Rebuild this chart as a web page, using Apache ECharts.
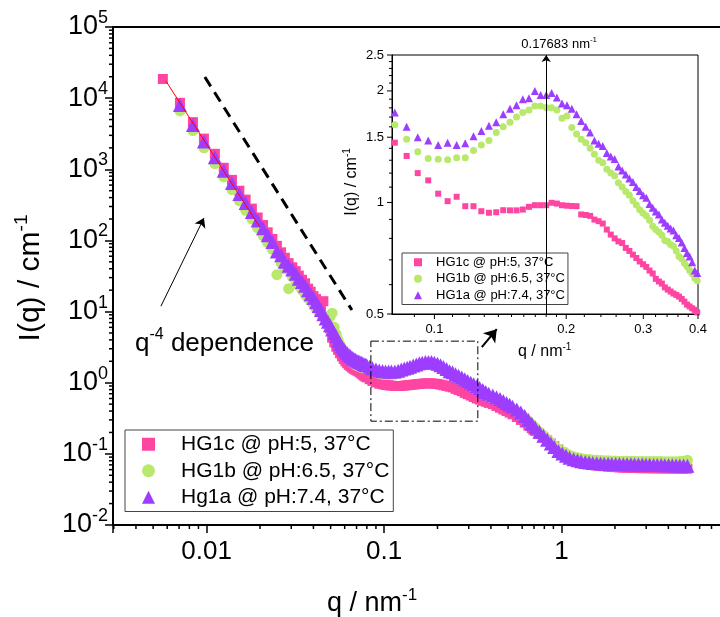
<!DOCTYPE html>
<html><head><meta charset="utf-8">
<script src="https://cdn.jsdelivr.net/npm/echarts@6/dist/echarts.min.js"></script>
<style>html,body{margin:0;padding:0;background:#fff}#c{width:720px;height:617px}</style>
</head><body><div id="c"></div>
<script>
const FONT = 'Liberation Sans, Arial, sans-serif';
const seriesNames = ['HG1c @ pH:5, 37°C', 'HG1b @ pH:6.5, 37°C', 'HG1a @ pH:7.4, 37°C'];
const mainLegendLabels = ['HG1c @ pH:5, 37°C', 'HG1b @ pH:6.5, 37°C', 'Hg1a @ pH:7.4, 37°C'];
const colors = ['#ff45a2', '#b8e86c', '#9d3dff'];

// ---- main plot data (q in nm^-1, I in cm^-1) ----
const mainQ = [
  0.00567, 0.00708, 0.00838, 0.00966, 0.01114, 0.0125, 0.0139, 0.0153, 0.0166, 0.0180,
  0.0194, 0.0208, 0.0221, 0.0235, 0.0249, 0.0263, 0.0276, 0.0290, 0.0304, 0.0318,
  0.0331, 0.0345, 0.0359, 0.0373, 0.0386, 0.0400, 0.0414, 0.0428, 0.0441, 0.0455,
  0.0469, 0.0483, 0.0496, 0.0510, 0.0524, 0.0538, 0.0551, 0.0565, 0.0579, 0.0593,
  0.0606, 0.0620, 0.0634, 0.0648, 0.0661, 0.0675, 0.0689, 0.0703, 0.0716, 0.0730,
  0.0744, 0.0758, 0.0771, 0.0785, 0.0799,
  0.083, 0.086, 0.090, 0.094, 0.098, 0.102, 0.106, 0.110, 0.115, 0.120,
  0.125, 0.130, 0.135, 0.140, 0.146, 0.152, 0.158, 0.164, 0.171, 0.178,
  0.185, 0.192, 0.200, 0.208, 0.216, 0.225, 0.234, 0.243, 0.253, 0.263,
  0.274, 0.285, 0.296, 0.308, 0.320, 0.333, 0.346, 0.360, 0.374, 0.389,
  0.41, 0.43, 0.45, 0.47, 0.49, 0.51, 0.53, 0.56, 0.59, 0.62,
  0.65, 0.68, 0.71, 0.75, 0.79, 0.83, 0.87, 0.91, 0.96, 1.01,
  1.06, 1.11, 1.17, 1.23, 1.29, 1.36, 1.43, 1.50, 1.58, 1.66,
  1.74, 1.83, 1.92, 2.02, 2.12, 2.23, 2.34, 2.46, 2.58, 2.71,
  2.85, 2.99, 3.14, 3.30, 3.46, 3.64, 3.82, 4.01, 4.21, 4.42,
  4.64, 4.87, 5.12
];
const mainPink = [
  18600, 8600, 4600, 2700, 1650, 1050, 710, 500, 375, 280,
  210, 165, 130, 105, 84, 68, 57, 48, 42, 37,
  32, 28, 25, 21, 19, 16.5, 15, 13, 11.5, 14,
  8.5, 7.0, 5.8, 4.3, 3.7, 3.2, 2.9, 2.6, 2.35, 2.15,
  2.0, 1.88, 1.78, 1.70, 1.63, 1.57, 1.52, 1.49, 1.45, 1.40,
  1.35, 1.30, 1.26, 1.22, 1.19,
  1.12, 1.06, 1.01, 0.97, 0.95, 0.93, 0.92, 0.91, 0.90, 0.90,
  0.90, 0.91, 0.92, 0.93, 0.94, 0.95, 0.96, 0.97, 0.98, 0.98,
  0.98, 0.97, 0.96, 0.94, 0.92, 0.90, 0.88, 0.86, 0.82, 0.79,
  0.76, 0.72, 0.69, 0.66, 0.63, 0.60, 0.58, 0.56, 0.54, 0.52,
  0.50, 0.47, 0.445, 0.42, 0.40, 0.38, 0.36, 0.33, 0.30, 0.275,
  0.25, 0.23, 0.21, 0.19, 0.17, 0.155, 0.14, 0.128, 0.115, 0.104,
  0.096, 0.09, 0.084, 0.08, 0.077, 0.074, 0.072, 0.070, 0.069, 0.068,
  0.067, 0.066, 0.0655, 0.065, 0.0645, 0.064, 0.064, 0.0635, 0.0635, 0.063,
  0.063, 0.063, 0.0628, 0.0627, 0.0626, 0.0625, 0.0625, 0.0624, 0.0623, 0.0622,
  0.0621, 0.062, 0.062
];
const mainGreen = [
  null, 6600, 3500, 2000, 1200, 780, 520, 360, 265, 200,
  150, 118, 93, 75, 33, 48, 40, 21, 31, 27,
  23, 20, 17.5, 15.5, 14, 12.5, 11, 10, 9.2, 8.5,
  8.0, 7.8, 8.5, 9.5, 6.0, 4.8, 4.0, 3.4, 3.0, 2.7,
  2.5, 2.3, 2.15, 2.05, 1.95, 1.87, 1.8, 1.75, 1.71, 1.68,
  1.65, 1.63, 1.61, 1.60, 1.59,
  1.55, 1.47, 1.40, 1.35, 1.31, 1.31, 1.30, 1.31, 1.32, 1.34,
  1.40, 1.44, 1.50, 1.56, 1.62, 1.68, 1.74, 1.77, 1.82, 1.81,
  1.80, 1.76, 1.70, 1.60, 1.49, 1.43, 1.33, 1.28, 1.20, 1.13,
  1.07, 1.01, 0.96, 0.91, 0.85, 0.80, 0.77, 0.73, 0.68, 0.64,
  0.60, 0.57, 0.54, 0.51, 0.48, 0.455, 0.43, 0.395, 0.36, 0.325,
  0.29, 0.26, 0.232, 0.205, 0.182, 0.161, 0.144, 0.13, 0.117, 0.108,
  0.101, 0.095, 0.091, 0.088, 0.086, 0.084, 0.083, 0.082, 0.081, 0.0805,
  0.080, 0.0798, 0.0795, 0.0792, 0.079, 0.079, 0.0788, 0.0786, 0.0785, 0.0784,
  0.0783, 0.0782, 0.078, 0.078, 0.0779, 0.0778, 0.0777, 0.0776, 0.0775, 0.0775,
  0.0778, 0.079, 0.081
];
const mainPurple = [
  null, 8000, 4200, 2450, 1480, 950, 640, 450, 335, 250,
  190, 148, 118, 95, 70, 62, 50, 44, 39, 34,
  29, 26, 23, 20, 17.5, 15.5, 13.5, 12, 10.5, 9.2,
  8.0, 7.2, 6.4, 5.6, 5.0, 4.5, 3.9, 3.5, 3.2, 2.95,
  2.75, 2.6, 2.45, 2.35, 2.25, 2.17, 2.1, 2.04, 1.99, 1.95,
  1.91, 1.86, 1.82, 1.79, 1.76,
  1.68, 1.60, 1.53, 1.49, 1.46, 1.44, 1.44, 1.44, 1.44, 1.47,
  1.53, 1.58, 1.62, 1.68, 1.75, 1.81, 1.87, 1.91, 1.96, 1.96,
  1.96, 1.91, 1.84, 1.76, 1.66, 1.56, 1.45, 1.40, 1.32, 1.25,
  1.18, 1.12, 1.06, 1.00, 0.95, 0.89, 0.84, 0.79, 0.74, 0.70,
  0.66, 0.625, 0.59, 0.555, 0.52, 0.49, 0.46, 0.42, 0.38, 0.34,
  0.30, 0.265, 0.235, 0.205, 0.18, 0.158, 0.14, 0.125, 0.11, 0.101,
  0.094, 0.088, 0.084, 0.081, 0.079, 0.077, 0.0755, 0.0745, 0.0738, 0.0732,
  0.0728, 0.0725, 0.0722, 0.072, 0.0718, 0.0716, 0.0714, 0.0712, 0.071, 0.0708,
  0.0706, 0.0704, 0.0702, 0.07, 0.0698, 0.0696, 0.0694, 0.0692, 0.069, 0.0688,
  0.0686, 0.0684, 0.068
];

// ---- inset data ----
const insetQ = [
  0.0812, 0.0864, 0.0916, 0.0968, 0.1020, 0.1072, 0.1124, 0.1176, 0.1228, 0.1280,
  0.1332, 0.1384, 0.1436, 0.1488, 0.1540, 0.1592, 0.1644, 0.1696, 0.1748, 0.1800,
  0.1852, 0.1904, 0.1956, 0.2008, 0.2060, 0.2112, 0.2164, 0.2216, 0.2268, 0.2320,
  0.2372, 0.2424, 0.2476, 0.2528, 0.2580, 0.2632, 0.2684, 0.2736, 0.2788, 0.2840,
  0.2892, 0.2944, 0.2996, 0.3048, 0.3100, 0.3152, 0.3204, 0.3256, 0.3308, 0.3360,
  0.3412, 0.3464, 0.3516, 0.3568, 0.3620, 0.3672, 0.3724, 0.3776, 0.3828, 0.3880,
  0.3932, 0.3984
];
const insetPink = [
  1.45, 1.335, 1.20, 1.147, 1.056, 1.008, 1.036, 0.977, 0.977, 0.947,
  0.938, 0.941, 0.953, 0.952, 0.952, 0.957, 0.973, 0.983, 0.983, 0.983,
  0.998, 0.993, 0.983, 0.98, 0.978, 0.977, 0.928, 0.925, 0.92, 0.899,
  0.89, 0.877, 0.845, 0.819, 0.80, 0.785, 0.777, 0.754, 0.74, 0.723,
  0.708, 0.693, 0.681, 0.67, 0.655, 0.643, 0.622, 0.612, 0.604, 0.59,
  0.582, 0.575, 0.568, 0.563, 0.557, 0.549, 0.54, 0.53, 0.524, 0.518,
  0.513, 0.505
];
const insetGreen = [
  1.62, 1.48, 1.37, 1.314, 1.308, 1.303, 1.32, 1.32, 1.38, 1.43,
  1.47, 1.545, 1.60, 1.645, 1.70, 1.75, 1.776, 1.82, 1.82, 1.805,
  1.80, 1.776, 1.687, 1.71, 1.594, 1.53, 1.48, 1.45, 1.40, 1.35,
  1.30, 1.28, 1.23, 1.20, 1.18, 1.13, 1.10, 1.07, 1.045, 1.01,
  0.985, 0.955, 0.935, 0.92, 0.895, 0.862, 0.845, 0.832, 0.815, 0.79,
  0.785, 0.77, 0.762, 0.74, 0.715, 0.705, 0.685, 0.672, 0.655, 0.642,
  0.625, 0.615
];
const insetPurple = [
  1.75, 1.60, 1.50, 1.47, 1.43, 1.45, 1.43, 1.445, 1.51, 1.56,
  1.61, 1.645, 1.73, 1.79, 1.83, 1.90, 1.91, 2.00, 1.95, 1.95,
  1.975, 1.92, 1.85, 1.83, 1.79, 1.73, 1.66, 1.60, 1.545, 1.47,
  1.44, 1.42, 1.36, 1.33, 1.31, 1.25, 1.22, 1.19, 1.16, 1.135,
  1.10, 1.073, 1.045, 1.03, 0.99, 0.967, 0.945, 0.928, 0.90, 0.881,
  0.865, 0.85, 0.84, 0.815, 0.802, 0.78, 0.754, 0.73, 0.715, 0.69,
  0.655, 0.645
];

// ---- annotations (data coordinates) ----
const peakQ = 0.17683;
const guideLine = [[0.00978, 19800], [0.0659, 10.5]];
const fitLine = [[0.0059, 17400], [0.01995, 154]];
const zoomBox = [[0.0843, 3.84], [0.3376, 3.84], [0.3376, 0.288], [0.0843, 0.288], [0.0843, 3.84]];
const arrowQ4 = [[0.00553, 11.9], [0.00966, 206]];
const arrowInset = [[0.3556, 3.16], [0.4314, 5.65]];

// ---- axis ranges and tick values ----
const mainX = [0.00297, 10];
const mainY = [0.01, 100000];
const insetX = [0.08, 0.4];
const insetY = [0.5, 2.5];
const insetXTicks = [0.1, 0.2, 0.3, 0.4];
const insetYTicks = [0.5, 1, 1.5, 2, 2.5];

const mainXMinor = [];
[0.001, 0.01, 0.1, 1].forEach(d => { for (let k = 2; k <= 9; k++) { const v = +(k * d).toPrecision(3); if (v > mainX[0] && v < mainX[1]) mainXMinor.push(v); } });
const mainYMinor = [];
[0.01, 0.1, 1, 10, 100, 1000, 10000].forEach(d => { for (let k = 2; k <= 9; k++) mainYMinor.push(+(k * d).toPrecision(3)); });
const insetXMinor = [0.09, 0.11, 0.12, 0.13, 0.14, 0.15, 0.16, 0.17, 0.18, 0.19, 0.22, 0.24, 0.26, 0.28, 0.32, 0.34, 0.36, 0.38];
const insetYMinor = [0.6, 0.7, 0.8, 0.9, 1.1, 1.2, 1.3, 1.4, 1.6, 1.7, 1.8, 1.9, 2.1, 2.2, 2.3, 2.4];

const zip = (xs, ys) => xs.map((x, i) => [x, ys[i]]).filter(p => p[1] != null);

function tickSeries(idx, vals, isX, len, width, labelSize) {
  const xMin = idx === 0 ? mainX[0] : insetX[0];
  const yMin = idx === 0 ? mainY[0] : insetY[0];
  return {
    type: 'custom', xAxisIndex: idx, yAxisIndex: idx, silent: true, z: 10, clip: false,
    data: vals.map(v => isX ? [v, yMin] : [xMin, v]),
    renderItem: (params, api) => {
      const v = api.value(isX ? 0 : 1);
      const p = api.coord([api.value(0), api.value(1)]);
      const children = [{
        type: 'line',
        shape: isX ? { x1: p[0], y1: p[1], x2: p[0], y2: p[1] + len } : { x1: p[0], y1: p[1], x2: p[0] - len, y2: p[1] },
        style: { stroke: '#000', lineWidth: width }
      }];
      if (labelSize) {
        children.push({
          type: 'text', x: isX ? p[0] : p[0] - len - 3, y: isX ? p[1] + len + 4 : p[1],
          style: { text: String(v), fontSize: labelSize, fontFamily: FONT, fill: '#000',
                   align: isX ? 'center' : 'right', verticalAlign: isX ? 'top' : 'middle' }
        });
      }
      return { type: 'group', children };
    }
  };
}

const chart = echarts.init(document.getElementById('c'), null, { renderer: 'canvas' });
const symbols = ['rect', 'circle', 'triangle'];
const mainSizes = [10, 11, 14];
const insetSizes = [6, 7, 8];
const mainSets = [mainPink, mainGreen, mainPurple];
const insetSets = [insetPink, insetGreen, insetPurple];

const series = [];
mainSets.forEach((ys, i) => series.push({
  type: 'scatter', name: seriesNames[i], xAxisIndex: 0, yAxisIndex: 0,
  data: zip(mainQ, ys), symbol: symbols[i], symbolSize: mainSizes[i],
  itemStyle: { color: colors[i], opacity: 1 }, z: 2 + i, silent: true
}));
insetSets.forEach((ys, i) => series.push({
  type: 'scatter', name: seriesNames[i], xAxisIndex: 1, yAxisIndex: 1,
  data: zip(insetQ, ys), symbol: symbols[i], symbolSize: insetSizes[i],
  itemStyle: { color: colors[i], opacity: 1 }, z: 2 + i, silent: true,
  markLine: i === 2 ? {
    silent: true, symbol: ['none', 'arrow'], symbolSize: 7, animation: false,
    lineStyle: { color: '#000', width: 1, type: 'solid' },
    label: { show: true, position: 'end', distance: 3,
      formatter: '{a|0.17683 nm}{s|-1}',
      rich: { a: { fontSize: 13, fontFamily: FONT, color: '#000', lineHeight: 16, padding: [0, 0, 0, 26] },
              s: { fontSize: 8, fontFamily: FONT, color: '#000', lineHeight: 8, verticalAlign: 'top' } } },
    data: [{ xAxis: peakQ }]
  } : undefined
}));
series.push({
  type: 'line', xAxisIndex: 0, yAxisIndex: 0, data: guideLine, symbol: 'none', silent: true, z: 6,
  lineStyle: { color: '#000', width: 3, type: [11, 7] },
  markLine: { silent: true, symbol: ['none', 'arrow'], symbolSize: 9, animation: false,
    lineStyle: { color: '#000', width: 1, type: 'solid' }, label: { show: false },
    data: [[{ coord: arrowQ4[0] }, { coord: arrowQ4[1] }]] }
});
series.push({
  type: 'line', xAxisIndex: 0, yAxisIndex: 0, data: fitLine, symbol: 'none', silent: true, z: 6,
  lineStyle: { color: '#ff0000', width: 1, type: 'solid' },
  markLine: { silent: true, symbol: ['none', 'arrow'], symbolSize: 12, animation: false,
    lineStyle: { color: '#000', width: 2, type: 'solid' }, label: { show: false },
    data: [[{ coord: arrowInset[0] }, { coord: arrowInset[1] }]] }
});
series.push({
  type: 'line', xAxisIndex: 0, yAxisIndex: 0, data: zoomBox, symbol: 'none', silent: true, z: 7,
  lineStyle: { color: '#000', width: 1, type: [8, 3, 2, 3] }
});
series.push(tickSeries(0, mainXMinor, true, 4, 1.5));
series.push(tickSeries(0, mainYMinor, false, 4, 1.5));
series.push(tickSeries(1, insetXTicks, true, 5, 1, 13));
series.push(tickSeries(1, insetXMinor, true, 3, 1));
series.push(tickSeries(1, insetYTicks, false, 5, 1, 13));
series.push(tickSeries(1, insetYMinor, false, 3, 1));

const mainXLabel = v => {
  const e = Math.log10(v); const r = Math.round(e);
  if (Math.abs(e - r) > 1e-6) return '';
  return r < 0 ? v.toFixed(-r) : String(Math.round(v));
};

const option = {
  animation: false,
  backgroundColor: '#fff',
  grid: [
    { left: 113, top: 27, width: 626, height: 498, show: true, borderColor: '#000', borderWidth: 2, backgroundColor: 'transparent', containLabel: false, outerBoundsMode: 'none' },
    { left: 392, top: 55, width: 306, height: 259, show: true, borderColor: '#000', borderWidth: 1, backgroundColor: '#fff', containLabel: false, outerBoundsMode: 'none' }
  ],
  xAxis: [
    { type: 'log', gridIndex: 0, logBase: 10, min: mainX[0], max: mainX[1],
      axisLine: { lineStyle: { color: '#000', width: 2 } },
      axisTick: { show: true, length: 8, lineStyle: { color: '#000', width: 1.5 } },
      axisLabel: { formatter: mainXLabel, fontSize: 26, fontFamily: FONT, color: '#000', margin: 14 },
      splitLine: { show: false }, minorTick: { show: false } },
    { type: 'log', gridIndex: 1, logBase: 10, min: insetX[0], max: insetX[1],
      axisLine: { lineStyle: { color: '#000', width: 1 } },
      axisTick: { show: false }, axisLabel: { show: false }, splitLine: { show: false } }
  ],
  yAxis: [
    { type: 'log', gridIndex: 0, logBase: 10, min: mainY[0], max: mainY[1],
      axisLine: { lineStyle: { color: '#000', width: 2 } },
      axisTick: { show: true, length: 8, lineStyle: { color: '#000', width: 1.5 } },
      axisLabel: { margin: 5,
        formatter: v => '{b|10}{s|' + Math.round(Math.log10(v)) + '}',
        rich: { b: { fontSize: 27, fontFamily: FONT, color: '#000', lineHeight: 36 },
                s: { fontSize: 18, fontFamily: FONT, color: '#000', lineHeight: 18, verticalAlign: 'top' } } },
      splitLine: { show: false }, minorTick: { show: false } },
    { type: 'log', gridIndex: 1, logBase: 10, min: insetY[0], max: insetY[1],
      axisLine: { lineStyle: { color: '#000', width: 1 } },
      axisTick: { show: false }, axisLabel: { show: false }, splitLine: { show: false } }
  ],
  legend: [
    { data: seriesNames, orient: 'vertical', left: 125, top: 430, itemWidth: 13, itemHeight: 13, itemGap: 0,
      padding: [1, 4, 1, 17], borderColor: '#444', borderWidth: 1, backgroundColor: '#fff', selectedMode: false,
      formatter: n => '{t|' + mainLegendLabels[seriesNames.indexOf(n)] + '}',
      textStyle: { fontSize: 21, fontFamily: FONT, color: '#000', lineHeight: 26.5,
        rich: { t: { fontSize: 21, fontFamily: FONT, color: '#000', lineHeight: 26.5, padding: [0, 0, 0, 21] } } } },
    { data: seriesNames, orient: 'vertical', left: 402, top: 253, itemWidth: 8, itemHeight: 8, itemGap: 0,
      padding: [1, 3, 1, 12], borderColor: '#444', borderWidth: 1, backgroundColor: '#fff', selectedMode: false,
      formatter: n => '{t|' + n + '}',
      textStyle: { fontSize: 13, fontFamily: FONT, color: '#000', lineHeight: 16.5,
        rich: { t: { fontSize: 13, fontFamily: FONT, color: '#000', lineHeight: 16.5, padding: [0, 0, 0, 9] } } } }
  ],
  graphic: [
    { type: 'text', x: 31, y: 278, rotation: Math.PI / 2, silent: true,
      style: { text: '{b|I(q) / cm}{s|-1}', align: 'center', verticalAlign: 'middle',
        rich: { b: { fontSize: 30, fontFamily: FONT, fill: '#000', lineHeight: 38 },
                s: { fontSize: 19, fontFamily: FONT, fill: '#000', lineHeight: 19, verticalAlign: 'top' } } } },
    { type: 'text', x: 327, y: 604, silent: true,
      style: { text: '{b|q / nm}{s|-1}', align: 'left', verticalAlign: 'middle',
        rich: { b: { fontSize: 27, fontFamily: FONT, fill: '#000', lineHeight: 34 },
                s: { fontSize: 17, fontFamily: FONT, fill: '#000', lineHeight: 17, verticalAlign: 'top' } } } },
    { type: 'text', x: 135, y: 344, silent: true,
      style: { text: '{b|q}{s|-4}{b| dependence}', align: 'left', verticalAlign: 'middle',
        rich: { b: { fontSize: 26, fontFamily: FONT, fill: '#000', lineHeight: 34 },
                s: { fontSize: 16, fontFamily: FONT, fill: '#000', lineHeight: 16, verticalAlign: 'top' } } } },
    { type: 'text', x: 518, y: 352, silent: true,
      style: { text: '{b|q / nm}{s|-1}', align: 'left', verticalAlign: 'middle',
        rich: { b: { fontSize: 16, fontFamily: FONT, fill: '#000', lineHeight: 20 },
                s: { fontSize: 10, fontFamily: FONT, fill: '#000', lineHeight: 10, verticalAlign: 'top' } } } },
    { type: 'text', x: 352, y: 182, rotation: Math.PI / 2, silent: true,
      style: { text: '{b|I(q) / cm}{s|-1}', align: 'center', verticalAlign: 'middle',
        rich: { b: { fontSize: 16, fontFamily: FONT, fill: '#000', lineHeight: 20 },
                s: { fontSize: 10, fontFamily: FONT, fill: '#000', lineHeight: 10, verticalAlign: 'top' } } } }
  ],
  series
};
chart.setOption(option);
</script>
</body></html>
